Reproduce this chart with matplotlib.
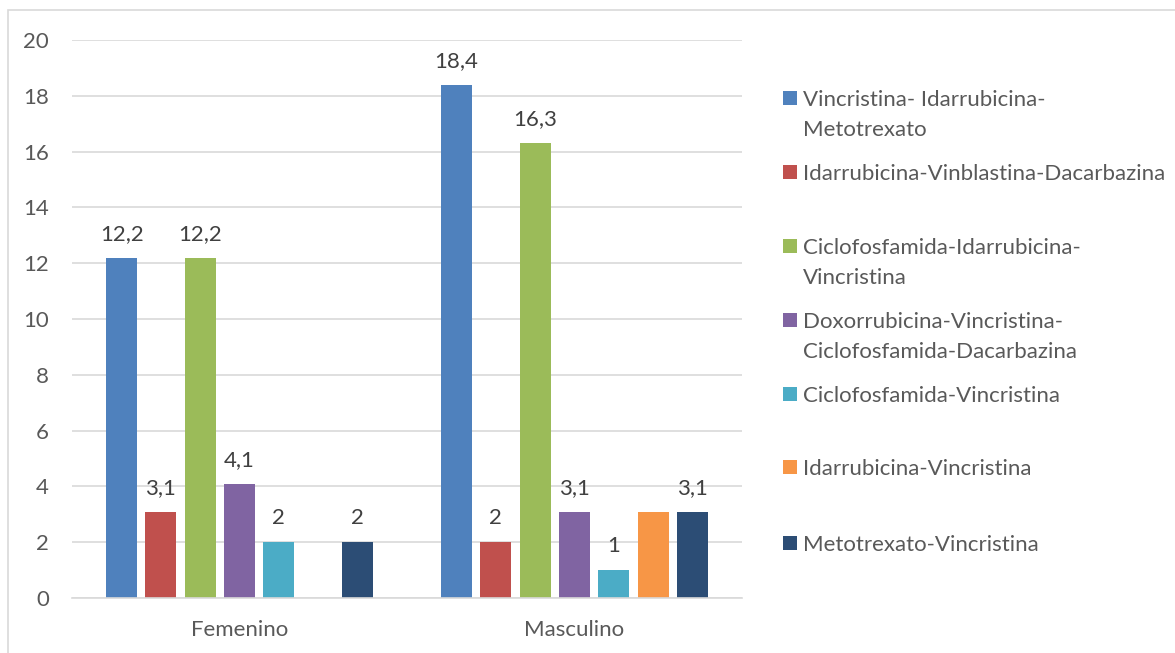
import matplotlib
matplotlib.use("Agg")
import matplotlib.pyplot as plt
from matplotlib.patches import Rectangle
import numpy as np

categories = ["Femenino", "Masculino"]
series = [
    "Vincristina- Idarrubicina-\nMetotrexato",
    "Idarrubicina-Vinblastina-Dacarbazina",
    "Ciclofosfamida-Idarrubicina-\nVincristina",
    "Doxorrubicina-Vincristina-\nCiclofosfamida-Dacarbazina",
    "Ciclofosfamida-Vincristina",
    "Idarrubicina-Vincristina",
    "Metotrexato-Vincristina",
]
femenino = [12.2, 3.1, 12.2, 4.1, 2, 0, 2]
masculino = [18.4, 2, 16.3, 3.1, 1, 3.1, 3.1]
show_fem = [True, True, True, True, True, False, True]
show_mas = [True, True, True, True, True, False, True]
colors = ["#4F81BD", "#C0504D", "#9BBB59", "#8064A2", "#4BACC6", "#F79646", "#2C4D75"]
yticks = [0, 2, 4, 6, 8, 10, 12, 14, 16, 18, 20]

FONT = "Lato"
TXT = "#595959"
FS = 16
W, H = 1175, 653
fig = plt.figure(figsize=(W / 100, H / 100), dpi=100)
fig.patch.set_facecolor("white")

# chart border
fig.patches.append(Rectangle((8 / W, -0.05), 1.2, (H - 10) / H + 0.05, transform=fig.transFigure,
                             fill=False, edgecolor="#D9D9D9", linewidth=1.2))

ax = fig.add_axes([72 / W, (H - 598) / H, (742 - 72) / W, (598 - 40) / H])
x = np.arange(len(categories))
step = 0.1173
width = 0.0925
n = len(series)
for i in range(n):
    vals = [femenino[i], masculino[i]]
    shows = [show_fem[i], show_mas[i]]
    pos = x + (i - (n - 1) / 2) * step
    bars = ax.bar(pos, vals, width=width, color=colors[i], zorder=3)
    for b, v, s in zip(bars, vals, shows):
        if s:
            lab = ("%g" % v).replace(".", ",")
            ax.annotate(lab, (b.get_x() + b.get_width() / 2, v), xytext=(0, 10),
                        textcoords="offset points", ha="center", va="bottom",
                        fontsize=FS, color="#404040", family=FONT)

ax.set_xlim(-0.5, 1.5)
ax.set_ylim(0, 20)
ax.set_yticks(yticks)
ax.set_yticklabels([str(t) for t in yticks], fontsize=FS, color=TXT, family=FONT)
ax.set_xticks(x)
ax.set_xticklabels(categories, fontsize=FS, color=TXT, family=FONT)
ax.tick_params(axis="both", length=0)
ax.tick_params(axis="y", pad=16.5)
ax.tick_params(axis="x", pad=16)
ax.yaxis.grid(True, color="#D9D9D9", linewidth=1.2, zorder=0)
for sp in ["top", "right", "left"]:
    ax.spines[sp].set_visible(False)
ax.spines["bottom"].set_color("#D9D9D9")
ax.spines["bottom"].set_linewidth(1.2)
ax.spines["bottom"].set_zorder(4)

# manual legend
leg_y = [98, 172, 246, 320, 394, 467, 543]
for i in range(n):
    yc = leg_y[i]
    fig.patches.append(Rectangle((783 / W, (H - yc - 7) / H), 14 / W, 14 / H,
                                 transform=fig.transFigure, facecolor=colors[i], edgecolor="none"))
    for k, line in enumerate(series[i].split("\n")):
        fig.text(803 / W, (H - yc - 30 * k) / H, line, ha="left", va="center_baseline",
                 fontsize=FS, color=TXT, family=FONT)

fig.savefig("out.png", dpi=100, facecolor="white")
